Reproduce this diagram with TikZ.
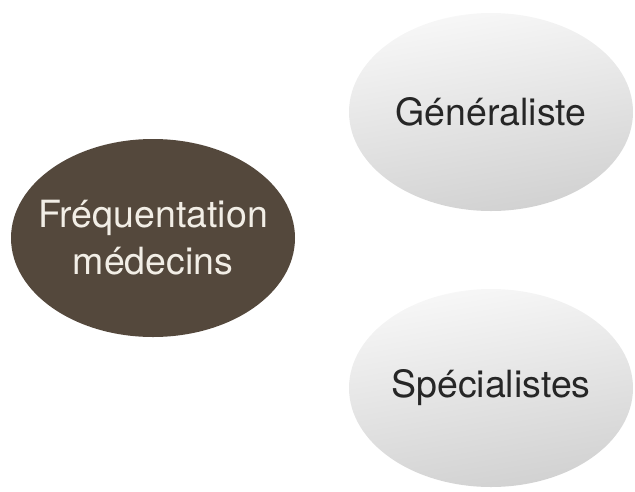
\documentclass[tikz,border=0pt]{standalone}
\usepackage{fontspec}
\setmainfont{TeX Gyre Heros}
\usepackage{tikz}
\usetikzlibrary{positioning}
\usetikzlibrary{shapes.geometric}
\definecolor{hubcolor}{RGB}{84, 72, 60}
\definecolor{hubtext}{RGB}{242, 238, 230}

\begin{document}
\begin{tikzpicture}[x=1pt, y=1pt, node distance=2cm, on grid,
  every node/.style={ellipse, inner sep=-60pt, minimum width=284pt, minimum height=198pt},
  hub/.style={fill=hubcolor, text=hubtext, align=center},
  leaf/.style={top color=white!97!black, bottom color=white!82!black, shading angle=10, text=black!85}]
  \useasboundingbox (0,0) rectangle (635,-491);
  \fontsize{37.5}{47}\selectfont

  \node[hub] (freq) at (153,-238) {Fréquentation\\médecins};

  \node[leaf, above right=126pt and 338pt of freq] (gen) {Généraliste};

  \node[leaf, below right=150pt and 338pt of freq] (spec) {Spécialistes};
\end{tikzpicture}
\end{document}
